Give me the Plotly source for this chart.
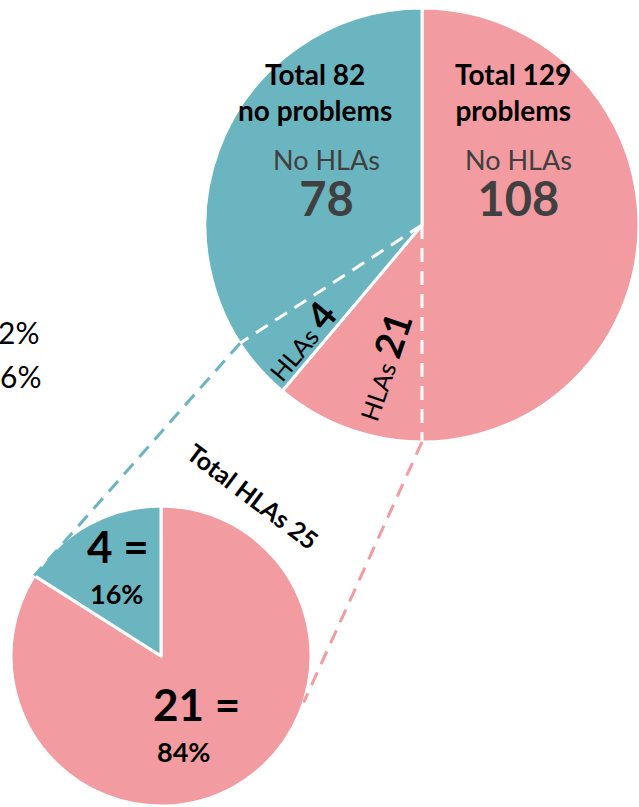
import math
import plotly.graph_objects as go

# ---------------- data ----------------
groups = ["Problems", "No problems"]
problems_split = [108, 21]        # [No HLAs, HLAs]
no_problems_split = [78, 4]       # [No HLAs, HLAs]
big_values = [sum(problems_split), sum(no_problems_split)]          # 129, 82
small_labels = ["HLAs, problems", "HLAs, no problems"]
small_values = [problems_split[1], no_problems_split[1]]            # 21, 4
cut_labels = ["2%", "6%"]

# ---------------- style / layout ----------------
W, H = 639, 807
TEAL = "#6BB5C1"
PINK = "#F29BA1"
DARK = "#404040"
FONT = "Lato"

BIG_C, BIG_R = (422, 225), 217
SMALL_C, SMALL_R = (161, 656), 150


def px(x):
    return x / W


def py(y):
    return 1 - y / H


def dom(c, r):
    cx, cy = c
    return dict(x=[max(0, px(cx - r)), min(1, px(cx + r))],
                y=[max(0, py(cy + r)), min(1, py(cy - r))])


def on_circle(c, r, theta):
    t = math.radians(theta)
    return c[0] + r * math.sin(t), c[1] - r * math.cos(t)


total_hla = sum(small_values)
pct = [round(100 * v / total_hla) for v in small_values]

fig = go.Figure()
fig.add_trace(go.Pie(
    labels=groups, values=big_values, sort=False, direction="clockwise",
    rotation=0, marker=dict(colors=[PINK, TEAL], line=dict(color="white", width=3)),
    textinfo="none", hoverinfo="label+value", domain=dom(BIG_C, BIG_R), showlegend=False))
fig.add_trace(go.Pie(
    labels=small_labels, values=small_values, sort=False, direction="clockwise",
    rotation=0, marker=dict(colors=[PINK, TEAL], line=dict(color="white", width=3)),
    textinfo="none", hoverinfo="label+value", domain=dom(SMALL_C, SMALL_R), showlegend=False))

# connector angles (clockwise from 12 o'clock)
A_PINK_BIG = 180
A_TEAL_BIG = 237
A_PINK_SMALL = 108
A_TEAL_SMALL = 360 * small_values[0] / total_hla

shapes = []
DASH = "14px,9px"
for ang in (A_PINK_BIG, A_TEAL_BIG):
    x1, y1 = on_circle(BIG_C, BIG_R, ang)
    shapes.append(dict(type="line", xref="paper", yref="paper",
                       x0=px(BIG_C[0]), y0=py(BIG_C[1]), x1=px(x1), y1=py(y1),
                       line=dict(color="white", width=3, dash=DASH)))
for a_big, a_small, col in ((A_PINK_BIG, A_PINK_SMALL, PINK), (A_TEAL_BIG, A_TEAL_SMALL, TEAL)):
    x0, y0 = on_circle(BIG_C, BIG_R, a_big)
    x1, y1 = on_circle(SMALL_C, SMALL_R, a_small)
    shapes.append(dict(type="line", xref="paper", yref="paper",
                       x0=px(x0), y0=py(y0), x1=px(x1), y1=py(y1),
                       line=dict(color=col, width=3, dash=DASH)))

ann = []


def txt(x, y, text, size, color="black", bold=False, angle=0, xanchor="center"):
    if bold:
        text = "<b>" + text + "</b>"
    ann.append(dict(x=px(x), y=py(y), xref="paper", yref="paper", text=text,
                    showarrow=False, xanchor=xanchor, yanchor="middle", textangle=angle,
                    font=dict(family=FONT, size=size, color=color)))


def sp(text, size, bold=False):
    s = f"<span style='font-size:{size}px'>{text}</span>"
    return f"<b>{s}</b>" if bold else s


txt(315, 92, f"Total {big_values[1]}<br>no problems", 28, bold=True)
txt(327, 184, sp("No HLAs", 27) + "<br>" + sp(no_problems_split[0], 47, True), 35, color=DARK)

txt(513, 92, f"Total {big_values[0]}<br>problems", 28, bold=True)
txt(518, 184, sp("No HLAs", 27) + "<br>" + sp(problems_split[0], 47, True), 35, color=DARK)

txt(299, 340, "HLAs " + sp(no_problems_split[1], 38, True), 25, angle=-50)
txt(381, 366, "HLAs " + sp(problems_split[1], 38, True), 25, angle=-71)

txt(253, 496, f"Total HLAs {total_hla}", 25, bold=True, angle=37)
txt(118, 546, f"{small_values[1]} =", 44, bold=True)
txt(116, 593, f"{pct[1]}%", 27, bold=True)
txt(196, 704, f"{small_values[0]} =", 44, bold=True)
txt(183, 751, f"{pct[0]}%", 27, bold=True)

txt(41, 332, cut_labels[0], 30, xanchor="right")
txt(43, 376, cut_labels[1], 30, xanchor="right")

fig.update_layout(width=W, height=H, margin=dict(l=0, r=0, t=0, b=0),
                  paper_bgcolor="white", plot_bgcolor="white",
                  shapes=shapes, annotations=ann)
fig.write_html("out.html", config={"displayModeBar": False},
               post_script="document.body.style.margin='0px';document.body.style.overflow='hidden';")
